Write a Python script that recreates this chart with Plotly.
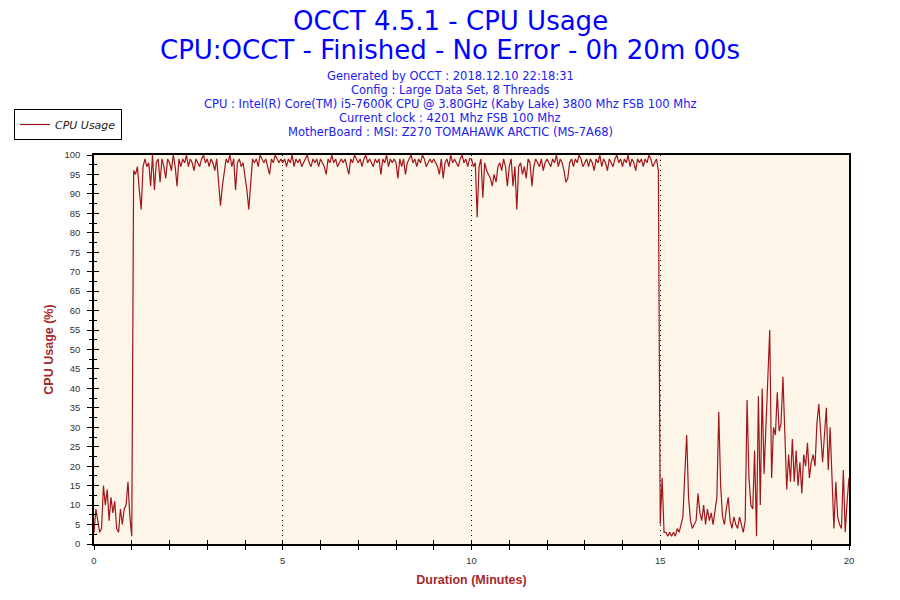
import plotly.graph_objects as go

# OCCT log, one CPU usage reading every 3 seconds, grouped per minute (%)
SAMPLE_MIN = 0.05

min00 = [3, 9, 6, 3, 4, 15, 10, 14, 6, 12, 8, 11, 4, 3, 9, 5, 9, 10, 16, 7]
min01 = [2, 96, 95, 97, 91, 86, 97, 99, 97, 98, 92, 100, 91, 98, 99, 93, 99, 97, 94, 99]
min02 = [98, 96, 100, 97, 92, 99, 97, 99, 98, 100, 97, 99, 98, 96, 99, 98, 97, 99, 100, 98]
min03 = [99, 97, 99, 98, 96, 99, 93, 87, 92, 96, 99, 98, 100, 97, 99, 91, 98, 99, 97, 98]
min04 = [95, 91, 86, 92, 99, 98, 99, 97, 100, 99, 98, 99, 97, 95, 99, 98, 100, 99, 98, 99]
min05 = [98, 99, 97, 99, 98, 100, 97, 99, 98, 99, 97, 98, 99, 100, 98, 97, 99, 98, 99, 97]
min06 = [99, 98, 97, 95, 99, 98, 100, 98, 99, 97, 98, 99, 98, 99, 97, 95, 99, 98, 100, 99]
min07 = [98, 99, 97, 99, 100, 98, 99, 98, 97, 99, 98, 99, 95, 99, 98, 100, 97, 99, 98, 99]
min08 = [98, 94, 99, 97, 99, 95, 98, 99, 100, 98, 99, 97, 99, 98, 100, 99, 97, 98, 99, 98]
min09 = [99, 98, 97, 95, 99, 94, 98, 99, 97, 100, 98, 99, 98, 97, 99, 100, 98, 99, 97, 99]
min10 = [99, 97, 98, 84, 97, 99, 89, 98, 96, 95, 94, 92, 95, 93, 97, 98, 96, 99, 97, 92]
min11 = [97, 99, 92, 97, 86, 97, 98, 95, 97, 94, 99, 98, 92, 97, 99, 98, 97, 99, 96, 98]
min12 = [99, 98, 97, 99, 98, 100, 97, 99, 98, 96, 93, 94, 98, 99, 97, 99, 98, 100, 99, 97]
min13 = [98, 99, 97, 99, 98, 96, 99, 98, 100, 97, 99, 98, 96, 99, 98, 97, 99, 100, 98, 99]
min14 = [97, 99, 98, 100, 97, 99, 98, 96, 99, 98, 99, 97, 99, 98, 100, 99, 97, 98, 99, 96]
min15 = [5, 17, 3, 3, 2, 3, 2, 3, 2, 4, 3, 5, 7, 18, 28, 12, 6, 4, 5, 6]
min16 = [13, 8, 6, 10, 5, 9, 6, 8, 5, 9, 12, 34, 15, 7, 5, 9, 12, 6, 4, 7]
min17 = [5, 4, 7, 5, 3, 6, 37, 17, 10, 9, 24, 2, 38, 10, 40, 18, 31, 39, 55, 17]
min18 = [30, 28, 39, 29, 31, 43, 25, 14, 23, 16, 27, 16, 24, 15, 21, 13, 23, 20, 26, 17]
min19 = [21, 23, 20, 31, 36, 27, 21, 28, 35, 19, 30, 17, 4, 16, 7, 5, 4, 19, 3, 11]
last_reading = [17]

cpu_usage = (min00 + min01 + min02 + min03 + min04 + min05 + min06 + min07
             + min08 + min09 + min10 + min11 + min12 + min13 + min14 + min15
             + min16 + min17 + min18 + min19 + last_reading)
minutes = [i * SAMPLE_MIN for i in range(len(cpu_usage))]

title_lines = ["OCCT 4.5.1 - CPU Usage",
               "CPU:OCCT - Finished - No Error - 0h 20m 00s"]
info_lines = ["Generated by OCCT : 2018.12.10 22:18:31",
              "Config : Large Data Set, 8 Threads",
              "CPU : Intel(R) Core(TM) i5-7600K CPU @ 3.80GHz (Kaby Lake) 3800 Mhz FSB 100 Mhz",
              "Current clock : 4201 Mhz FSB 100 Mhz",
              "MotherBoard : MSI: Z270 TOMAHAWK ARCTIC (MS-7A68)"]

LINE_RED = "#A0161A"
AXIS_RED = "#A52A2A"
BLUE = "#0000FF"

fig = go.Figure()
fig.add_trace(go.Scatter(
    x=minutes, y=cpu_usage, mode="lines", name="CPU Usage",
    line=dict(color=LINE_RED, width=1.2),
))
# invisible copy so the overlay axes (inner half of the crossing ticks) get drawn
fig.add_trace(go.Scatter(
    x=minutes, y=cpu_usage, mode="lines", xaxis="x2", yaxis="y2",
    line=dict(color=LINE_RED, width=1), opacity=0, showlegend=False,
    hoverinfo="skip",
))


# header text is centred on the page, not on the plot area
# plot area in pixels: x 94..849, y 155..544
def paper_y(py):
    return (544 - py) / 389


PAGE_CENTER_X = (450 - 94) / 755

annotations = []
for text, py in zip(title_lines, [21, 50]):
    annotations.append(dict(
        text=text, x=PAGE_CENTER_X, y=paper_y(py), xref="paper", yref="paper",
        xanchor="center", yanchor="middle", showarrow=False,
        font=dict(family="DejaVu Sans", size=26, color=BLUE),
    ))
for i, text in enumerate(info_lines):
    annotations.append(dict(
        text=text, x=PAGE_CENTER_X, y=paper_y(76 + i * 14), xref="paper", yref="paper",
        xanchor="center", yanchor="middle", showarrow=False,
        font=dict(family="DejaVu Sans", size=11.5, color="#2020F0"),
    ))

tick_font = dict(family="Liberation Sans", size=9.5, color="#333333")
title_font = dict(family="Liberation Sans", size=12.5, color=AXIS_RED, weight="bold")

fig.update_layout(
    width=900, height=600,
    margin=dict(l=94, r=51, t=155, b=56, autoexpand=False),
    paper_bgcolor="white",
    plot_bgcolor="#FDF6E8",
    annotations=annotations,
    showlegend=True,
    legend=dict(
        x=-0.106, y=paper_y(109), xanchor="left", yanchor="top",
        bgcolor="white", bordercolor="black", borderwidth=1,
        font=dict(family="DejaVu Sans", size=11, color="#222222", style="italic"),
        itemwidth=30, tracegroupgap=0,
    ),
    xaxis=dict(
        range=[0, 20], dtick=5, tick0=0, automargin=False,
        ticks="outside", ticklen=4, tickcolor="black", tickwidth=1,
        minor=dict(dtick=1, ticks="outside", ticklen=4, tickcolor="black", showgrid=False),
        showgrid=True, gridcolor="black", griddash="1px,4px", gridwidth=1,
        showline=True, linecolor="black", linewidth=1.5, mirror=True,
        zeroline=False, tickfont=tick_font, ticklabelstandoff=3,
        title=dict(text="Duration (Minutes)", font=title_font, standoff=10),
    ),
    yaxis=dict(
        range=[0, 100], dtick=5, tick0=0, automargin=False,
        ticks="outside", ticklen=5, tickcolor="black", tickwidth=1,
        minor=dict(dtick=2.5, ticks="outside", ticklen=3, tickcolor="black", showgrid=False),
        showgrid=False,
        showline=True, linecolor="black", linewidth=1.5, mirror=True,
        zeroline=False, tickfont=tick_font, ticklabelstandoff=5,
        title=dict(text="CPU Usage (%)", font=title_font, standoff=8),
    ),
    xaxis2=dict(
        overlaying="x", matches="x", range=[0, 20], dtick=5, tick0=0,
        automargin=False,
        ticks="inside", ticklen=4, tickcolor="black",
        minor=dict(dtick=1, ticks="inside", ticklen=4, tickcolor="black", showgrid=False),
        showticklabels=False, showgrid=False, showline=False, zeroline=False,
    ),
    yaxis2=dict(
        overlaying="y", matches="y", range=[0, 100], dtick=5, tick0=0,
        automargin=False,
        ticks="inside", ticklen=5, tickcolor="black",
        minor=dict(dtick=2.5, ticks="inside", ticklen=3, tickcolor="black", showgrid=False),
        showticklabels=False, showgrid=False, showline=False, zeroline=False,
    ),
)

# drop the default 8px page margin so the 900x600 figure fills the window
fig.write_html(
    "out.html",
    config={"displayModeBar": False},
    post_script="document.body.style.margin = '0';",
)
